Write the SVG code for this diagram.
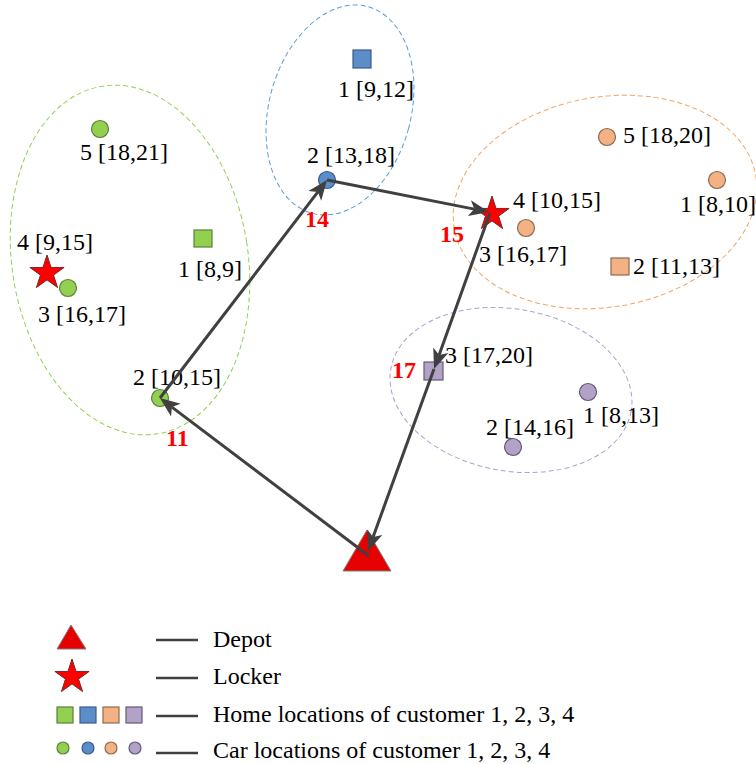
<svg xmlns="http://www.w3.org/2000/svg" xmlns:xlink="http://www.w3.org/1999/xlink" width="756" height="764" viewBox="0 0 756 764" font-family="'Liberation Serif', 'DejaVu Serif', serif">
<style>
text{font-family:'Liberation Serif','DejaVu Serif',serif}
.lbl{font-size:24px;fill:#000}
.leg{font-size:24px;fill:#000}
.num{font-size:24px;font-weight:bold;fill:#FF0000}
.edge{stroke:#404040;stroke-width:3;fill:none;marker-end:url(#arr)}
.zone{fill:none;stroke-width:1;stroke-dasharray:5 3}
.g{fill:#92D050;stroke:#5E7F3B;stroke-width:1.2}
.b{fill:#5B8DC8;stroke:#3B5C86;stroke-width:1.2}
.o{fill:#F4B183;stroke:#8C6A52;stroke-width:1.2}
.p{fill:#B3A2C7;stroke:#625A73;stroke-width:1.2}
.red{fill:#FF0000;stroke:#6E2A2A;stroke-width:1}
.dep{fill:#E60000;stroke:#7F7F7F;stroke-width:1}
.legline{stroke:#404040;stroke-width:2.5}
</style>
<defs>
<marker id="arr" markerUnits="userSpaceOnUse" markerWidth="20" markerHeight="16" refX="5" refY="8" orient="auto" overflow="visible">
<path d="M0,0 L20,8 L0,16 L5,8 Z" fill="#404040"/>
</marker>
<path id="star" d="M0,-18 L4.04,-5.56 L17.12,-5.56 L6.54,2.12 L10.58,14.56 L0,6.88 L-10.58,14.56 L-6.54,2.12 L-17.12,-5.56 L-4.04,-5.56 Z"/>
</defs>
<rect width="756" height="764" fill="#fff"/>

<g id="zones">
<ellipse class="zone" cx="130" cy="260" rx="118" ry="176" stroke="#92D050" transform="rotate(-9 130 260)"/>
<ellipse class="zone" cx="340" cy="110" rx="71" ry="107" stroke="#5B9BD5" transform="rotate(15 340 110)"/>
<ellipse class="zone" cx="605" cy="202" rx="153" ry="105" stroke="#F4A460" transform="rotate(-10 605 202)"/>
<ellipse class="zone" cx="511" cy="390" rx="122" ry="81" stroke="#A9A3D0" transform="rotate(10 511 390)"/>
</g>

<g id="depot"><polygon class="dep" points="367,530 343,571 391,571"/></g>

<g id="green-car5"><circle class="g" cx="100" cy="129" r="8.5"/><text class="lbl" x="80" y="160">5 [18,21]</text></g>
<g id="green-home1"><rect class="g" x="194" y="230" width="18" height="17"/><text class="lbl" x="178" y="277">1 [8,9]</text></g>
<g id="locker-green"><use xlink:href="#star" class="red" x="47" y="273"/><text class="lbl" x="17" y="250">4 [9,15]</text></g>
<g id="green-car3"><circle class="g" cx="68" cy="288" r="8.5"/><text class="lbl" x="38" y="322">3 [16,17]</text></g>
<g id="green-car2"><circle class="g" cx="160" cy="398" r="8.5"/><text class="lbl" x="133" y="385">2 [10,15]</text></g>

<g id="blue-home1"><rect class="b" x="353" y="50" width="18" height="18"/><text class="lbl" x="338" y="97">1 [9,12]</text></g>
<g id="blue-car2"><circle class="b" cx="327" cy="180" r="8.5"/><text class="lbl" x="307" y="163">2 [13,18]</text></g>

<g id="orange-car5"><circle class="o" cx="607" cy="137" r="8.5"/><text class="lbl" x="623" y="143">5 [18,20]</text></g>
<g id="orange-car1"><circle class="o" cx="717" cy="180" r="8.5"/><text class="lbl" x="680" y="212">1 [8,10]</text></g>
<g id="orange-car3"><circle class="o" cx="526" cy="228" r="8.5"/><text class="lbl" x="479" y="262">3 [16,17]</text></g>
<g id="orange-home2"><rect class="o" x="611" y="258" width="18" height="17"/><text class="lbl" x="633" y="274">2 [11,13]</text></g>
<g id="locker-orange"><use xlink:href="#star" class="red" x="492" y="214"/><text class="lbl" x="513" y="208">4 [10,15]</text></g>

<g id="purple-home3"><rect class="p" x="424" y="362" width="19" height="18"/><text class="lbl" x="445" y="363">3 [17,20]</text></g>
<g id="purple-car1"><circle class="p" cx="588" cy="392" r="8.5"/><text class="lbl" x="583" y="423">1 [8,13]</text></g>
<g id="purple-car2"><circle class="p" cx="513" cy="447" r="8.5"/><text class="lbl" x="486" y="435">2 [14,16]</text></g>

<g id="connectors">
<path class="edge" d="M369,556 L171.9,407.1"/>
<path class="edge" d="M160,398 L317.9,191.9"/>
<path class="edge" d="M327,180 L474.3,209.1"/>
<path class="edge" d="M490,213 L439.1,354.9"/>
<path class="edge" d="M434,369 L373.1,536.9"/>
<text class="num" x="166" y="446">11</text>
<text class="num" x="305" y="227">14</text>
<text class="num" x="440" y="242">15</text>
<text class="num" x="392" y="378">17</text>
</g>

<g id="legend">
<polygon class="dep" points="71,625 57,649 86,649"/>
<use xlink:href="#star" class="red" x="72" y="677"/>
<rect class="g" x="57" y="707" width="16" height="16"/>
<rect class="b" x="80" y="707" width="16" height="16"/>
<rect class="o" x="103" y="707" width="16" height="16"/>
<rect class="p" x="126" y="707" width="16" height="16"/>
<circle class="g" cx="63" cy="748" r="6"/>
<circle class="b" cx="88" cy="748" r="6"/>
<circle class="o" cx="111" cy="748" r="6"/>
<circle class="p" cx="135" cy="748" r="6"/>
<line class="legline" x1="156" y1="640" x2="198" y2="640"/>
<line class="legline" x1="156" y1="678" x2="198" y2="678"/>
<line class="legline" x1="156" y1="716" x2="198" y2="716"/>
<line class="legline" x1="156" y1="753" x2="198" y2="753"/>
<text class="leg" x="213" y="647">Depot</text>
<text class="leg" x="213" y="684">Locker</text>
<text class="leg" x="213" y="722">Home locations of customer 1, 2, 3, 4</text>
<text class="leg" x="213" y="758">Car locations of customer 1, 2, 3, 4</text>
</g>
</svg>
